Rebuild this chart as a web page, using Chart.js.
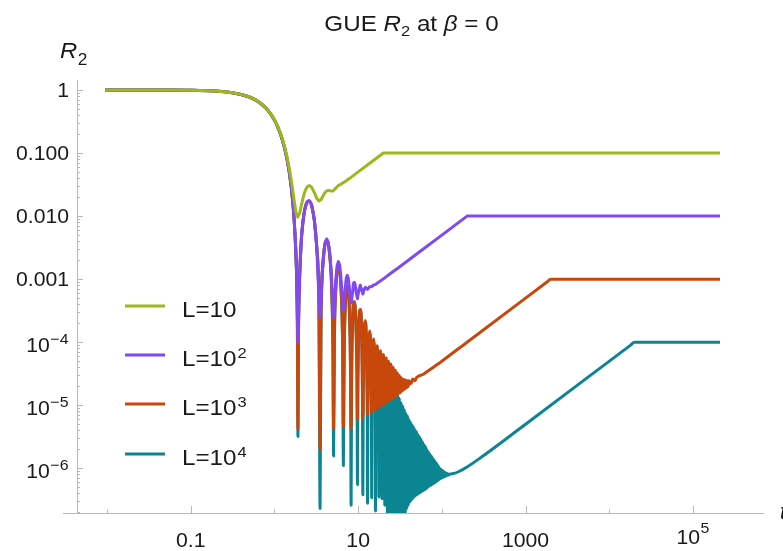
<!DOCTYPE html>
<html><head><meta charset="utf-8">
<script src="https://cdn.jsdelivr.net/npm/chart.js@4.4.1/dist/chart.umd.min.js"></script>
<style>html,body{margin:0;padding:0;background:#fff;}canvas{display:block;}</style>
</head><body>
<canvas id="c" width="783" height="551"></canvas>
<script>
// ---------- data (t, R2) ----------
const seriesLabels = ['L=10', 'L=10²', 'L=10³', 'L=10⁴'];
const legendBase = ['L=10', 'L=10', 'L=10', 'L=10'];
const legendExp = ['', '2', '3', '4'];

const yTickValues = [1e-6, 1e-5, 1e-4, 1e-3, 1e-2, 1e-1, 1];
const yTickLabels = ['10', '10', '10', '0.001', '0.010', '0.100', '1'];
const yTickExps = ['−6', '−5', '−4', '', '', '', ''];
const xTickValues = [0.1, 10, 1000, 1e5];
const xTickLabels = ['0.1', '10', '1000', '10'];
const xTickExps = ['', '', '', '5'];
const xMinorTickValues = [0.01, 1, 100, 1e4];

const r2L10 = [
[0.0095,1.0],[0.05,0.998],[0.1,0.990],[0.2,0.961],[0.3,0.914],[0.4,0.852],[0.5,0.778],[0.6,0.693],[0.7,0.603],[0.8,0.512],[0.9,0.422],[1.0,0.338],[1.1,0.261],[1.2,0.194],[1.3,0.138],[1.4,0.0927],[1.5,0.0586],[1.6,0.0347],[1.7,0.0196],[1.8,0.0118],[1.9,0.0096],[2.0,0.0111],[2.1,0.0149],[2.2,0.0195],[2.3,0.0241],[2.4,0.0275],[2.5,0.0297],[2.6,0.0304],[2.7,0.0298],[2.8,0.0283],[3.0,0.0235],[3.2,0.0192],[3.4,0.0174],[3.6,0.0182],[3.8,0.0208],[4.0,0.0234],[4.2,0.0251],[4.4,0.0256],[4.6,0.0252],[4.8,0.0249],[5.0,0.0251],[5.4,0.0277],[5.8,0.0306],[6.2,0.0319],[7.0,0.0354],[8.0,0.0401],[10,0.0502],[14,0.0701],[20,0.1],[210000,0.1]
];

const r2L100 = [
[0.0095,1.0],[0.05,0.9975],[0.1,0.990],[0.2,0.960],[0.3,0.913],[0.4,0.850],[0.5,0.775],[0.6,0.690],[0.7,0.599],[0.8,0.508],[0.9,0.418],[1.0,0.333],[1.1,0.256],[1.2,0.188],[1.3,0.131],[1.4,0.0858],[1.5,0.0512],[1.6,0.0268],[1.7,0.0112],[1.8,0.0029],[1.85,9.4e-4],[1.88,2.7e-4],[1.91,1.0e-4],[1.94,2.4e-4],[1.97,6.6e-4],[2.0,0.0012],[2.1,0.0045],[2.2,0.0086],[2.3,0.0127],[2.4,0.0156],[2.5,0.0173],[2.6,0.0175],[2.7,0.0165],[2.8,0.0144],[3.0,0.0086],[3.2,0.0033],[3.4,5.4e-4],[3.51,2.5e-4],[3.6,4.1e-4],[3.8,0.00195],[4.0,0.00364],[4.2,0.00434],[4.4,0.00382],[4.6,0.00246],[4.8,0.00112],[5.0,3.3e-4],[5.09,2.5e-4],[5.2,3.7e-4],[5.4,9.5e-4],[5.6,0.00162],[5.8,0.0019],[6.0,0.00169],[6.2,0.00116],[6.4,6.3e-4],[6.55,3.9e-4],[6.66,3.2e-4],[6.8,4.0e-4],[7.0,7.1e-4],[7.2,0.00102],[7.4,0.00115],[7.6,0.00105],[7.8,8.1e-4],[8.0,5.3e-4],[8.24,4.2e-4],[8.5,5.6e-4],[8.8,8.6e-4],[9.0,8.9e-4],[9.2,8.3e-4],[9.5,6.0e-4],[9.81,4.9e-4],[10.2,6.7e-4],[10.6,8.0e-4],[11.0,6.8e-4],[11.38,5.8e-4],[11.8,6.9e-4],[12.2,7.4e-4],[12.95,6.9e-4],[13.7,7.6e-4],[14.52,7.6e-4],[15.3,8.1e-4],[16.1,8.2e-4],[17.0,8.7e-4],[20,0.00101],[25,0.00126],[30,0.0015],[50,0.0025],[100,0.005],[200,0.01],[210000,0.01]
];

const r2L1000 = [
[0.0095,1.0],[0.05,0.9975],[0.1,0.990],[0.2,0.960],[0.3,0.913],[0.4,0.850],[0.5,0.775],[0.6,0.690],[0.7,0.599],[0.8,0.5075],[0.9,0.4175],[1.0,0.3326],[1.1,0.2555],[1.2,0.1879],[1.3,0.1312],[1.4,0.0857],[1.5,0.0511],[1.6,0.0267],[1.7,0.0111],[1.8,0.0028],[1.85,8.5e-4],[1.88,1.8e-4],[1.91,4.2e-6],[1.94,1.45e-4],[1.97,5.6e-4],[2.0,0.0011],[2.1,0.0044],[2.2,0.0085],[2.3,0.0126],[2.4,0.0155],[2.5,0.0172],[2.6,0.0174],[2.7,0.0164],[2.8,0.0143],[3.0,0.0085],[3.2,0.0032],[3.4,3.7e-4],[3.51,2.0e-6],[3.6,2.3e-4],[3.8,0.00176],[4.0,0.00344],[4.2,0.00413],[4.4,0.0036],[4.6,0.00223],[4.8,8.8e-4],[5.0,7.6e-5],[5.09,4.3e-6],[5.2,1.13e-4],[5.4,6.8e-4],[5.6,0.00134],[5.8,0.00161],[6.0,0.00139],[6.2,8.5e-4],[6.4,3.1e-4],[6.55,6.0e-5],[6.66,4.5e-6],[6.8,6.0e-5],[7.0,3.6e-4],[7.2,6.6e-4],[7.4,7.8e-4],[7.6,6.7e-4],[7.8,4.2e-4],[8.0,1.3e-4],[8.12,3.0e-5],[8.24,4.3e-6],[8.36,3.2e-5],[8.5,1.3e-4],[8.8,4.2e-4],[9.0,4.4e-4],[9.2,3.7e-4],[9.5,1.25e-4],[9.69,2.8e-5],[9.81,6.0e-6],[9.93,2.6e-5],[10.2,1.9e-4],[10.6,3.3e-4],[11.0,1.6e-4],[11.26,1.9e-5],[11.38,6.3e-6],[11.5,1.9e-5],[12.17,2.2e-4],[12.83,1.6e-5],[12.95,7.0e-6],[13.07,1.6e-5],[13.74,1.5e-4],[14.4,1.45e-5],[14.52,7.6e-6],[14.64,1.45e-5],[15.31,1.12e-4],[15.98,1.35e-5],[16.1,8.3e-6],[16.22,1.35e-5],[16.88,8.8e-5],[17.55,1.33e-5],[17.67,9.0e-6],[17.79,1.33e-5],[18.46,7.3e-5],[19.12,1.34e-5],[19.24,9.7e-6],[19.36,1.34e-5],[20.03,6.4e-5],[20.69,1.38e-5],[20.81,1.04e-5],[20.93,1.38e-5],[21.6,5.6e-5],[22.26,1.42e-5],[22.38,1.11e-5],[22.5,1.42e-5],[23.17,5.0e-5],[23.95,1.19e-5],[24.74,4.5e-5],[25.52,1.26e-5],[26.31,4.0e-5],[27.1,1.34e-5],[27.88,3.6e-5],[28.67,1.42e-5],[29.46,3.25e-5],[30.24,1.5e-5],[31.03,2.95e-5],[31.81,1.58e-5],[32.6,2.75e-5],[33.38,1.66e-5],[34.17,2.6e-5],[34.95,1.74e-5],[35.74,2.55e-5],[36.52,1.82e-5],[37.31,2.5e-5],[38.1,1.9e-5],[38.9,2.45e-5],[39.67,1.98e-5],[40.5,2.45e-5],[42.8,2.2e-5],[45,2.6e-5],[47.5,2.45e-5],[50,2.75e-5],[60,3.1e-5],[80,4.05e-5],[100,5.0e-5],[200,1.0e-4],[1000,5.0e-4],[1800,9.0e-4],[2000,1.0e-3],[210000,1.0e-3]
];

const r2L10000 = [
[0.0095,1.0],[0.05,0.9975],[0.1,0.990],[0.2,0.960],[0.3,0.913],[0.4,0.850],[0.5,0.775],[0.6,0.690],[0.7,0.599],[0.8,0.5075],[0.9,0.4175],[1.0,0.3326],[1.1,0.2555],[1.2,0.1879],[1.3,0.1312],[1.4,0.0857],[1.5,0.0511],[1.6,0.0267],[1.7,0.0111],[1.8,0.0028],[1.85,8.5e-4],[1.88,1.8e-4],[1.91,3.2e-6],[1.94,1.45e-4],[1.97,5.6e-4],[2.0,0.0011],[2.1,0.0044],[2.2,0.0085],[2.3,0.0126],[2.4,0.0155],[2.5,0.0172],[2.6,0.0174],[2.7,0.0164],[2.8,0.0143],[3.0,0.0085],[3.2,0.0032],[3.4,3.7e-4],[3.51,2.3e-7],[3.6,2.3e-4],[3.8,0.00176],[4.0,0.00344],[4.2,0.00413],[4.4,0.0036],[4.6,0.00223],[4.8,8.8e-4],[5.0,7.6e-5],[5.09,1.57e-6],[5.2,1.13e-4],[5.4,6.8e-4],[5.6,0.00134],[5.8,0.00161],[6.0,0.00139],[6.2,8.5e-4],[6.4,3.1e-4],[6.55,6.0e-5],[6.66,1.1e-6],[6.8,6.0e-5],[7.0,3.6e-4],[7.2,6.6e-4],[7.4,7.8e-4],[7.6,6.7e-4],[7.8,4.2e-4],[8.0,1.3e-4],[8.12,3.0e-5],[8.24,2.6e-7],[8.36,3.2e-5],[8.5,1.3e-4],[8.8,4.2e-4],[9.0,4.4e-4],[9.2,3.7e-4],[9.5,1.25e-4],[9.69,2.8e-5],[9.81,5.5e-7],[9.93,2.6e-5],[10.2,1.9e-4],[10.6,3.2e-4],[11.0,1.5e-4],[11.26,1.3e-5],[11.38,3.8e-7],[11.5,1.3e-5],[12.17,2.1e-4],[12.83,9.5e-6],[12.95,2.8e-7],[13.07,9.5e-6],[13.74,1.4e-4],[14.4,7.0e-6],[14.52,3.4e-7],[14.64,7.0e-6],[15.31,1.0e-4],[15.98,5.4e-6],[16.1,2.1e-7],[16.22,5.4e-6],[16.88,7.6e-5],[17.55,4.2e-6],[17.67,3.5e-7],[17.79,4.2e-6],[18.46,5.8e-5],[19.12,3.3e-6],[19.24,3.3e-7],[19.36,3.3e-6],[20.03,4.6e-5],[20.69,2.6e-6],[20.81,2.6e-7],[20.93,2.6e-6],[21.6,3.7e-5],[22.26,2.1e-6],[22.38,1.5e-7],[22.5,2.1e-6],[23.17,3.0e-5],[23.95,1.2e-7],[24.74,2.5e-5],[25.52,1.2e-7],[26.31,2.1e-5],[27.1,1.4e-7],[27.88,1.78e-5],[28.67,1.4e-7],[29.46,1.5e-5],[30.24,1.5e-7],[31.03,1.29e-5],[31.81,1.6e-7],[32.6,1.1e-5],[33.38,1.7e-7],[34.17,9.6e-6],[34.95,1.8e-7],[35.74,8.4e-6],[36.52,1.9e-7],[37.31,7.3e-6],[38.1,2.3e-7],[38.9,6.7e-6],[39.7,2.6e-7],[40.5,5.9e-6],[41.3,2.9e-7],[42.1,5.4e-6],[43.0,3.1e-7],[43.9,4.9e-6],[44.8,3.3e-7],[45.7,4.5e-6],[46.7,3.5e-7],[47.7,4.1e-6],[48.7,3.7e-7],[49.7,3.8e-6],[50.8,3.85e-7],[51.9,3.4e-6],[53.0,4.0e-7],[54.1,3.15e-6],[55.3,4.15e-7],[56.5,2.85e-6],[57.7,4.3e-7],[58.9,2.6e-6],[60.2,4.45e-7],[61.5,2.35e-6],[62.8,4.6e-7],[64.1,2.15e-6],[65.5,4.8e-7],[66.9,1.95e-6],[68.3,5.0e-7],[69.8,1.8e-6],[71.3,5.2e-7],[72.8,1.65e-6],[74.4,5.4e-7],[76.0,1.52e-6],[77.6,5.6e-7],[79.3,1.4e-6],[81.0,5.8e-7],[82.7,1.3e-6],[84.5,6.0e-7],[86.3,1.2e-6],[88.2,6.3e-7],[90.1,1.1e-6],[92.0,6.5e-7],[94.0,1.02e-6],[96.0,6.8e-7],[98.0,9.6e-7],[100,7.0e-7],[102,9.2e-7],[104,7.2e-7],[106.5,8.8e-7],[109,7.4e-7],[111.5,8.5e-7],[114,7.6e-7],[116.5,8.3e-7],[119,7.8e-7],[124,8.1e-7],[140,8.3e-7],[160,8.9e-7],[200,1.05e-6],[300,1.52e-6],[500,2.5e-6],[1000,5.0e-6],[18000,9.0e-5],[20000,1.0e-4],[210000,1.0e-4]
];

const seriesData = [r2L10, r2L100, r2L1000, r2L10000];
const seriesColors = ['#9cb81c', '#8049f2', '#c8480c', '#0b8592'];
const seriesSmooth = [false, false, true, true];

// ---------- style ----------
const axisColor = '#b8b8b8';
const textColor = '#1a1a1a';
const FONT = '"Liberation Sans", Arial, sans-serif';
const SX = 1.06;

function textWidth(ctx, text, font, sx) {
  ctx.save(); ctx.font = font; const w = ctx.measureText(text).width * sx; ctx.restore(); return w;
}
function drawText(ctx, text, x, y, font, sx) {
  ctx.save();
  ctx.font = font;
  ctx.textBaseline = 'alphabetic';
  ctx.textAlign = 'left';
  ctx.translate(x, y);
  ctx.scale(sx, 1);
  ctx.fillText(text, 0, 0);
  const w = ctx.measureText(text).width * sx;
  ctx.restore();
  return w;
}

const decor = {
  id: 'decor',
  afterDraw(chart) {
    const ctx = chart.ctx;
    const xs = chart.scales.x, ys = chart.scales.y;
    const ca = chart.chartArea;
    ctx.save();
    ctx.strokeStyle = axisColor;
    ctx.lineWidth = 1;
    ctx.beginPath();
    ctx.moveTo(63, ca.bottom + 0.5);
    ctx.lineTo(ca.left + 1, ca.bottom + 0.5);
    ctx.stroke();
    const xt = [].concat(xTickValues.map(v => [v, 7]), xMinorTickValues.map(v => [v, 3.5]));
    xt.forEach(([v, len]) => {
      const px = Math.round(xs.getPixelForValue(v)) + 0.5;
      ctx.beginPath(); ctx.moveTo(px, ca.bottom); ctx.lineTo(px, ca.bottom - len); ctx.stroke();
    });
    for (let e = -7; e <= 0; e++) {
      for (let k = 1; k <= 9; k++) {
        const v = k * Math.pow(10, e);
        if (v < ys.min || v > ys.max) continue;
        const py = Math.round(ys.getPixelForValue(v)) + 0.5;
        const len = k === 1 ? 6 : 3;
        ctx.beginPath(); ctx.moveTo(ca.left, py); ctx.lineTo(ca.left + len, py); ctx.stroke();
      }
    }
    ctx.restore();

    ctx.save();
    ctx.fillStyle = textColor;
    const F20 = '20px ' + FONT, F15 = '15px ' + FONT;
    yTickValues.forEach((v, i) => {
      const py = ys.getPixelForValue(v);
      const base = yTickLabels[i], ex = yTickExps[i];
      if (ex) {
        const we = textWidth(ctx, ex, F15, SX);
        const wb = textWidth(ctx, base, F20, SX);
        const xr = 68.5;
        drawText(ctx, base, xr - we - wb - 0.5, py + 9.5, F20, SX);
        drawText(ctx, ex, xr - we, py + 1.5, F15, SX);
      } else {
        const wb = textWidth(ctx, base, F20, SX);
        drawText(ctx, base, 69 - wb, py + 7, F20, SX);
      }
    });
    xTickValues.forEach((v, i) => {
      const px = xs.getPixelForValue(v);
      const base = xTickLabels[i], ex = xTickExps[i];
      const wb = textWidth(ctx, base, F20, SX);
      if (ex) {
        const we = textWidth(ctx, ex, F15, SX);
        const x0 = px - (wb + we + 0.5) / 2;
        drawText(ctx, base, x0, 543.5, F20, SX);
        drawText(ctx, ex, x0 + wb + 0.5, 533, F15, SX);
      } else {
        drawText(ctx, base, px - wb / 2, 547, F20, SX);
      }
    });

    const T = '22px ' + FONT, TI = 'italic 22px ' + FONT, TS = '15px ' + FONT;
    const pieces = [['GUE ', T, 31], ['R', TI, 31], ['2', TS, 36], [' at ', T, 31], ['β', TI, 31], [' = 0', T, 31]];
    const tsx = 1.1;
    let total = 0;
    pieces.forEach(p => { total += textWidth(ctx, p[0], p[1], tsx); });
    let tx = 411.5 - total / 2;
    pieces.forEach(p => { tx += drawText(ctx, p[0], tx, p[2], p[1], tsx); });

    const wr = drawText(ctx, 'R', 60, 58, 'italic 22px ' + FONT, 1.08);
    drawText(ctx, '2', 60 + wr + 0.5, 65, '16px ' + FONT, 1.08);
    drawText(ctx, 't', 780, 519, 'italic 22px ' + FONT, 1.0);

    const rowY = [306, 355, 404, 454];
    seriesColors.forEach((c, i) => {
      const y = rowY[i];
      ctx.strokeStyle = c;
      ctx.lineWidth = 3;
      ctx.beginPath(); ctx.moveTo(125, y); ctx.lineTo(165, y); ctx.stroke();
      ctx.fillStyle = textColor;
      const w = drawText(ctx, legendBase[i], 182, y + 10.5, '22px ' + FONT, 1.1);
      if (legendExp[i]) drawText(ctx, legendExp[i], 182 + w + 1, y + 3, '15px ' + FONT, 1.1);
    });
    ctx.restore();
  }
};

new Chart(document.getElementById('c'), {
  type: 'line',
  data: {
    datasets: seriesData.map((s, i) => ({
      label: seriesLabels[i],
      data: s.map(([x, y]) => ({ x, y })),
      borderColor: seriesColors[i],
      backgroundColor: seriesColors[i],
      borderWidth: 3,
      pointRadius: 0,
      tension: 0,
      cubicInterpolationMode: seriesSmooth[i] ? 'monotone' : 'default',
      fill: false,
      borderJoinStyle: 'round',
      clip: { left: 0, top: 0, right: 0, bottom: 0 }
    }))
  },
  options: {
    responsive: false,
    animation: false,
    events: [],
    layout: { padding: { top: 80, right: 20, bottom: 0, left: 0 } },
    plugins: { legend: { display: false }, title: { display: false }, tooltip: { enabled: false } },
    scales: {
      x: {
        type: 'logarithmic',
        position: 'bottom',
        min: 0.004381,
        max: 685700,
        bounds: 'data',
        afterBuildTicks: s => { s.ticks = xTickValues.map(v => ({ value: v })); },
        afterFit: s => { s.height = 38; },
        grid: { display: false },
        border: { display: true, color: axisColor, width: 1 },
        ticks: { display: false, autoSkip: false }
      },
      y: {
        type: 'logarithmic',
        position: 'left',
        min: 1.954e-7,
        max: 1.441,
        bounds: 'data',
        afterBuildTicks: s => { s.ticks = yTickValues.map(v => ({ value: v })); },
        afterFit: s => { s.width = 77; },
        grid: { display: false },
        border: { display: true, color: axisColor, width: 1 },
        ticks: { display: false, autoSkip: false }
      }
    }
  },
  plugins: [decor]
});
</script>
</body></html>
